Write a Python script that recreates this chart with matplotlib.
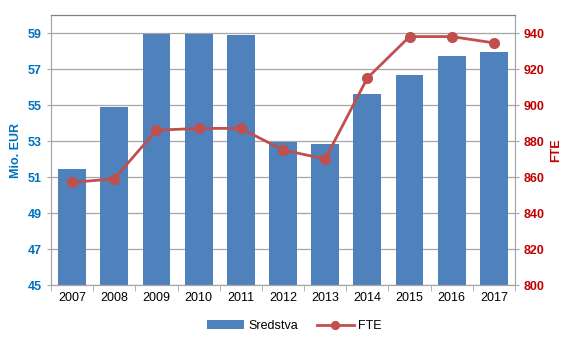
import matplotlib
matplotlib.use("Agg")
import matplotlib.pyplot as plt
import numpy as np

plt.rcParams['font.family'] = ['Liberation Sans', 'DejaVu Sans']

years = ["2007", "2008", "2009", "2010", "2011", "2012", "2013", "2014", "2015", "2016", "2017"]
sredstva = [51.46, 54.9, 58.96, 58.96, 58.89, 52.93, 52.82, 55.62, 56.66, 57.70, 57.92]
fte = [857, 859, 886, 887, 887, 875, 870, 915, 938, 938, 934.5]

fig = plt.figure(figsize=(5.88, 3.51), dpi=100)
ax = fig.add_axes([51/588, 66/351, 464/588, 270/351])
x = np.arange(len(years))

ax.bar(x, sredstva, width=0.66, bottom=0, color="#4F81BD", label="Sredstva", zorder=2)
ax.set_ylim(45, 60)
ax.set_yticks(range(45, 60, 2))
ax.set_xlim(-0.5, len(years) - 0.5)
ax.set_xticks(x)
ax.set_xticks(np.arange(-0.5, len(years), 1), minor=True)
ax.set_xticklabels(years, fontsize=9)
ax.yaxis.grid(True, color="#A6A6A6", linewidth=0.9, zorder=0)
ax.set_axisbelow(True)
ax.tick_params(axis='y', colors="#0070C0", labelsize=9, length=3)
for lab in ax.get_yticklabels():
    lab.set_fontweight("bold")
ax.tick_params(axis='x', which='major', length=0, pad=5)
ax.tick_params(axis='x', which='minor', length=4, color="#A6A6A6")
ax.set_ylabel("Mio. EUR", color="#0070C0", fontweight="bold", fontsize=9, labelpad=4)
for s in ax.spines.values():
    s.set_color("#A6A6A6")
ax.spines['top'].set_color("#808080")

ax2 = ax.twinx()
ax2.plot(x, fte, color="#C0504D", linewidth=2, marker="o", markersize=7, label="FTE", zorder=3)
ax2.set_ylim(800, 950)
ax2.set_yticks(range(800, 950, 20))
ax2.tick_params(axis='y', colors="#C00000", labelsize=9, length=3)
for lab in ax2.get_yticklabels():
    lab.set_fontweight("bold")
ax2.set_ylabel("FTE", color="#C00000", fontweight="bold", fontsize=9, labelpad=4)
for s in ax2.spines.values():
    s.set_color("#A6A6A6")
ax2.spines['top'].set_color("#808080")
ax2.tick_params(axis='y', color="#A6A6A6")
ax.tick_params(axis='y', color="#A6A6A6")

h1, l1 = ax.get_legend_handles_labels()
h2, l2 = ax2.get_legend_handles_labels()
fig.legend(h1 + h2, l1 + l2, loc="center", bbox_to_anchor=(0.5, 25/351), ncol=2,
           frameon=False, fontsize=9, handlelength=3, columnspacing=1.5, handletextpad=0.3,
           markerscale=0.8)

fig.savefig("out.png", dpi=100)
